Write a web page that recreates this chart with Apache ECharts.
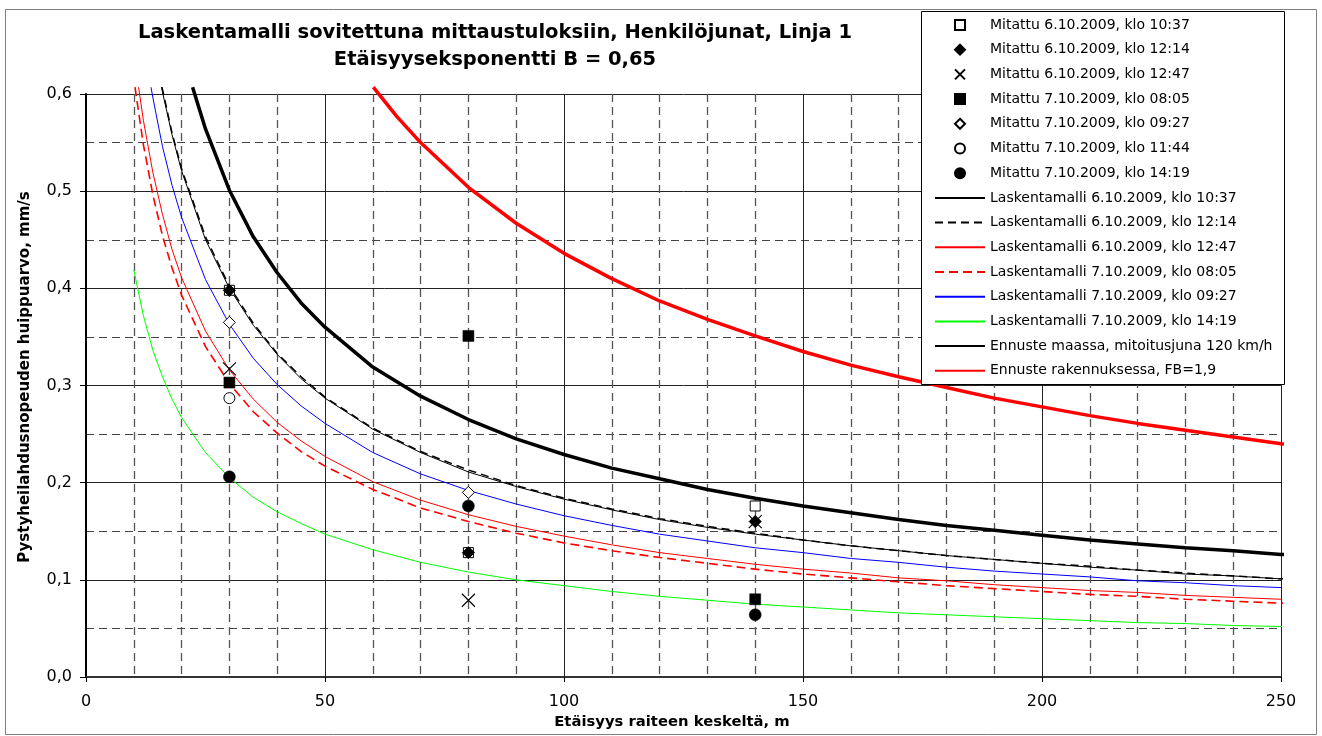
<!DOCTYPE html>
<html><head><meta charset="utf-8">
<script src="https://cdn.jsdelivr.net/npm/echarts@6/dist/echarts.min.js"></script>
<style>html,body{margin:0;padding:0;background:#fff}#c{width:1322px;height:736px}</style>
</head><body><div id="c"></div>
<script>
// ---- text ----
const titleText = 'Laskentamalli sovitettuna mittaustuloksiin, Henkilöjunat, Linja 1\nEtäisyyseksponentti B = 0,65';
const xAxisName = 'Etäisyys raiteen keskeltä, m';
const yAxisName = 'Pystyheilahdusnopeuden huippuarvo, mm/s';
const xTickLabels = ['0', '50', '100', '150', '200', '250'];
const yTickLabels = ['0,0', '0,1', '0,2', '0,3', '0,4', '0,5', '0,6'];

// ---- measured points [distance m, value mm/s] ----
const meas0610_1037 = [[30, 0.398], [80, 0.128], [140, 0.176]];
const meas0610_1214 = [[30, 0.398], [80, 0.128], [140, 0.160]];
const meas0610_1247 = [[30, 0.317], [80, 0.079], [140, 0.160]];
const meas0710_0805 = [[30, 0.303], [80, 0.351], [140, 0.080]];
const meas0710_0927 = [[30, 0.365], [80, 0.190]];
const meas0710_1144 = [[30, 0.287]];
const meas0710_1419 = [[30, 0.206], [80, 0.176], [140, 0.064]];

// ---- model curves [distance m, value mm/s] ----
const model0610_1037 = [[15.8,0.607],[16,0.602],[18,0.558],[20,0.521],[25,0.450],[30,0.400],[35,0.362],[40,0.332],[45,0.307],[50,0.287],[60,0.255],[70,0.231],[80,0.211],[90,0.196],[100,0.183],[110,0.172],[120,0.162],[130,0.154],[140,0.147],[150,0.141],[160,0.135],[170,0.130],[180,0.125],[190,0.121],[200,0.117],[210,0.113],[220,0.110],[230,0.106],[240,0.104],[250,0.101],[252,0.100]];
const model0610_1214 = [[15.9,0.607],[16,0.605],[18,0.560],[20,0.523],[25,0.453],[30,0.402],[35,0.364],[40,0.333],[45,0.309],[50,0.288],[60,0.256],[70,0.232],[80,0.213],[90,0.197],[100,0.184],[110,0.173],[120,0.163],[130,0.155],[140,0.148],[150,0.141],[160,0.135],[170,0.130],[180,0.125],[190,0.121],[200,0.117],[210,0.114],[220,0.110],[230,0.107],[240,0.104],[250,0.101],[252,0.101]];
const model0610_1247 = [[11.0,0.607],[12,0.573],[14,0.519],[16,0.476],[18,0.440],[20,0.411],[25,0.356],[30,0.316],[35,0.286],[40,0.262],[45,0.243],[50,0.227],[60,0.201],[70,0.182],[80,0.167],[90,0.155],[100,0.145],[110,0.136],[120,0.128],[130,0.122],[140,0.116],[150,0.111],[160,0.107],[170,0.102],[180,0.099],[190,0.095],[200,0.092],[210,0.089],[220,0.087],[230,0.084],[240,0.082],[250,0.080],[252,0.079]];
const model0710_0805 = [[10.25,0.607],[12,0.548],[14,0.496],[16,0.454],[18,0.421],[20,0.393],[25,0.340],[30,0.302],[35,0.273],[40,0.251],[45,0.232],[50,0.217],[60,0.193],[70,0.174],[80,0.160],[90,0.148],[100,0.138],[110,0.130],[120,0.123],[130,0.117],[140,0.111],[150,0.106],[160,0.102],[170,0.098],[180,0.094],[190,0.091],[200,0.088],[210,0.085],[220,0.083],[230,0.080],[240,0.078],[250,0.076],[252,0.076]];
const model0710_0927 = [[13.6,0.607],[14,0.596],[16,0.546],[18,0.506],[20,0.473],[25,0.409],[30,0.363],[35,0.328],[40,0.301],[45,0.279],[50,0.261],[60,0.231],[70,0.209],[80,0.192],[90,0.178],[100,0.166],[110,0.156],[120,0.147],[130,0.140],[140,0.133],[150,0.128],[160,0.122],[170,0.118],[180,0.113],[190,0.109],[200,0.106],[210,0.103],[220,0.099],[230,0.097],[240,0.094],[250,0.092],[252,0.091]];
const model0710_1419 = [[10,0.419],[12,0.372],[14,0.336],[16,0.309],[18,0.286],[20,0.267],[25,0.231],[30,0.205],[35,0.185],[40,0.170],[45,0.158],[50,0.147],[60,0.131],[70,0.118],[80,0.108],[90,0.100],[100,0.094],[110,0.088],[120,0.083],[130,0.079],[140,0.075],[150,0.072],[160,0.069],[170,0.066],[180,0.064],[190,0.062],[200,0.060],[210,0.058],[220,0.056],[230,0.055],[240,0.053],[250,0.052],[252,0.051]];
const forecastGround = [[22.3,0.607],[25,0.564],[30,0.501],[35,0.453],[40,0.416],[45,0.385],[50,0.360],[60,0.319],[70,0.289],[80,0.265],[90,0.245],[100,0.229],[110,0.215],[120,0.204],[130,0.193],[140,0.184],[150,0.176],[160,0.169],[170,0.162],[180,0.156],[190,0.151],[200,0.146],[210,0.141],[220,0.137],[230,0.133],[240,0.130],[250,0.126],[252,0.126]];
const forecastBuilding = [[60.1,0.607],[65,0.577],[70,0.550],[80,0.504],[90,0.467],[100,0.436],[110,0.410],[120,0.387],[130,0.368],[140,0.351],[150,0.335],[160,0.321],[170,0.309],[180,0.298],[190,0.287],[200,0.278],[210,0.269],[220,0.261],[230,0.254],[240,0.247],[250,0.240],[252,0.239]];

const FONT = 'DejaVu Sans';
const SQUARE = 'path://M0,0L10,0L10,10L0,10Z';
const DIAMOND = 'path://M5,0L10,5L5,10L0,5Z';
const CIRCLE = 'path://M0,5A5,5,0,1,1,10,5A5,5,0,1,1,0,5Z';
const CROSS = 'path://M0,0L10,10M10,0L0,10';

function scatter(name, data, symbol, size, fill, bw) {
  return {
    type: 'scatter', name: name, data: data, symbol: symbol, symbolSize: size, z: 3,
    itemStyle: { color: fill, borderColor: '#000', borderWidth: bw, opacity: 1 },
    emphasis: { disabled: true }
  };
}
function line(name, data, color, width, dash) {
  return {
    type: 'line', name: name, data: data, symbol: 'none', showSymbol: false, clip: false, z: 2,
    lineStyle: { color: color, width: width, type: dash || 'solid' },
    itemStyle: { color: color },
    emphasis: { disabled: true }
  };
}

const series = [
  scatter('Mitattu 6.10.2009, klo 10:37', meas0610_1037, SQUARE, 10, '#fff', 1),
  scatter('Mitattu 6.10.2009, klo 12:14', meas0610_1214, DIAMOND, 12, '#000', 1),
  scatter('Mitattu 6.10.2009, klo 12:47', meas0610_1247, CROSS, 13, 'none', 1.1),
  scatter('Mitattu 7.10.2009, klo 08:05', meas0710_0805, SQUARE, 11, '#000', 0.5),
  scatter('Mitattu 7.10.2009, klo 09:27', meas0710_0927, DIAMOND, 12, '#fff', 1),
  scatter('Mitattu 7.10.2009, klo 11:44', meas0710_1144, CIRCLE, 11, '#fff', 1),
  scatter('Mitattu 7.10.2009, klo 14:19', meas0710_1419, CIRCLE, 12, '#000', 0.5),
  line('Laskentamalli 6.10.2009, klo 10:37', model0610_1037, '#000', 1),
  line('Laskentamalli 6.10.2009, klo 12:14', model0610_1214, '#000', 1.5, [8, 5]),
  line('Laskentamalli 6.10.2009, klo 12:47', model0610_1247, '#ff0000', 1),
  line('Laskentamalli 7.10.2009, klo 08:05', model0710_0805, '#ff0000', 1.6, [9, 5]),
  line('Laskentamalli 7.10.2009, klo 09:27', model0710_0927, '#0000ff', 1),
  line('Laskentamalli 7.10.2009, klo 14:19', model0710_1419, '#00ff00', 1),
  line('Ennuste maassa, mitoitusjuna 120 km/h', forecastGround, '#000', 3.5),
  line('Ennuste rakennuksessa, FB=1,9', forecastBuilding, '#ff0000', 3.5)
];

const legendData = series.map(s => s.type === 'line'
  ? { name: s.name, itemStyle: { opacity: 0 } }
  : { name: s.name });

const chart = echarts.init(document.getElementById('c'), null, { renderer: 'canvas' });
chart.setOption({
  animation: false,
  backgroundColor: '#fff',
  textStyle: { fontFamily: FONT },
  title: {
    text: titleText, left: 490, top: 14, textAlign: 'center',
    textStyle: { fontFamily: FONT, fontSize: 19.5, fontWeight: 'bold', color: '#000', lineHeight: 27 }
  },
  grid: { left: 86, right: 41, top: 94, bottom: 59, containLabel: false },
  xAxis: {
    type: 'value', min: 0, max: 250, interval: 50,
    name: xAxisName, nameLocation: 'middle', nameGap: 36,
    nameTextStyle: { fontFamily: FONT, fontSize: 14.8, fontWeight: 'bold', color: '#000', padding: [0, 23, 0, 0] },
    axisLine: { show: true, onZero: false, lineStyle: { color: '#333', width: 2 } },
    axisTick: { show: true, length: 5, lineStyle: { color: '#000', width: 1 } },
    axisLabel: { margin: 17, fontFamily: FONT, fontSize: 16, color: '#000',
      formatter: v => xTickLabels[Math.round(v / 50)] },
    splitLine: { show: true, lineStyle: { color: '#222', width: 1, type: 'solid' } },
    minorTick: { show: false, splitNumber: 5 },
    minorSplitLine: { show: true, lineStyle: { color: '#555', width: 1.3, type: [8, 5] } }
  },
  yAxis: {
    type: 'value', min: 0, max: 0.6, interval: 0.1,
    name: yAxisName, nameLocation: 'middle', nameGap: 53, nameRotate: 90,
    nameTextStyle: { fontFamily: FONT, fontSize: 15, fontWeight: 'bold', color: '#000', padding: [0, 0, 0, 17] },
    axisLine: { show: true, onZero: false, lineStyle: { color: '#000', width: 2 } },
    axisTick: { show: true, length: 6, lineStyle: { color: '#000', width: 1 } },
    axisLabel: { margin: 14, fontFamily: FONT, fontSize: 16, color: '#000',
      formatter: v => yTickLabels[Math.round(v * 10)] },
    splitLine: { show: true, lineStyle: { color: '#222', width: 1, type: 'solid' } },
    minorTick: { show: false, splitNumber: 2 },
    minorSplitLine: { show: true, lineStyle: { color: '#444', width: 1, type: [8, 5] } }
  },
  legend: {
    orient: 'vertical', left: 934, top: 17.5, padding: 0,
    itemWidth: 50, itemHeight: 10, itemGap: 9.7, z: 11, selectedMode: false,
    symbolKeepAspect: true,
    textStyle: { fontFamily: FONT, fontSize: 14, color: '#000', lineHeight: 15 },
    data: legendData
  },
  graphic: [
    { type: 'rect', silent: true, z: 0, shape: { x: 5.5, y: 9.5, width: 1311, height: 725 },
      style: { fill: 'none', stroke: '#7f7f7f', lineWidth: 1 } },
    { type: 'rect', silent: true, z: 10, shape: { x: 921.5, y: 11.5, width: 363, height: 373 },
      style: { fill: '#fff', stroke: '#000', lineWidth: 1 } }
  ],
  series: series
});
</script>
</body></html>
